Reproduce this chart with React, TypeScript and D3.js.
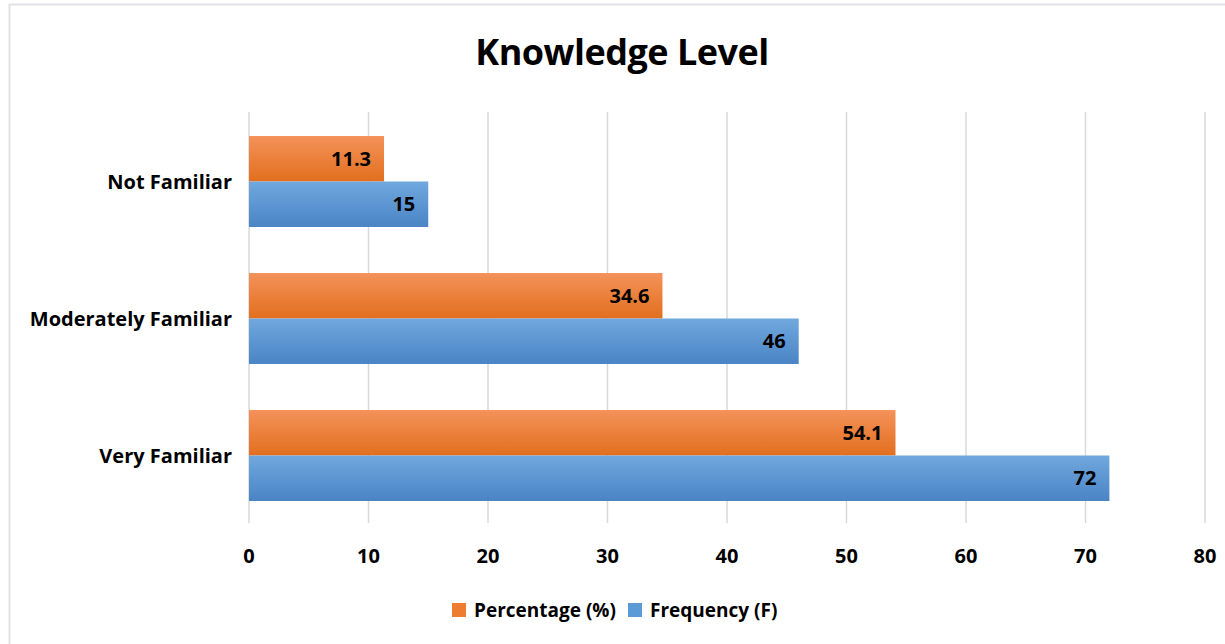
import React from "react";
import * as d3 from "d3";

const categories = ["Not Familiar", "Moderately Familiar", "Very Familiar"];
const seriesNames = ["Percentage (%)", "Frequency (F)"];
const percentage = [11.3, 34.6, 54.1];
const frequency = [15, 46, 72];
const xTicks = [0, 10, 20, 30, 40, 50, 60, 70, 80];

const W = 1225;
const H = 644;
const FONT = "'Open Sans', Lato, sans-serif";

export default function App() {
  const x = d3.scaleLinear().domain([0, 80]).range([249, 1205]);
  const y = d3.scaleBand<string>().domain(categories).range([113, 524]).paddingInner(0.336).paddingOuter(0.168);
  const sub = d3.scaleBand<string>().domain(seriesNames).range([0, y.bandwidth()]);
  const series = [
    { name: seriesNames[0], values: percentage, grad: "gOrange", color: "#ED7D31" },
    { name: seriesNames[1], values: frequency, grad: "gBlue", color: "#5B9BD5" },
  ];
  return (
    <div style={{ position: "absolute", left: 0, top: 0 }}>
      <svg width={W} height={H} style={{ display: "block" }} fontFamily={FONT}>
        <defs>
          <linearGradient id="gOrange" x1="0" y1="0" x2="0" y2="1">
            <stop offset="0" stopColor="#F4925A" />
            <stop offset="1" stopColor="#E26F1E" />
          </linearGradient>
          <linearGradient id="gBlue" x1="0" y1="0" x2="0" y2="1">
            <stop offset="0" stopColor="#70A8DE" />
            <stop offset="1" stopColor="#4A84C5" />
          </linearGradient>
        </defs>
        <rect x={0} y={0} width={W} height={H} fill="#fff" />
        <rect x={9.5} y={4.5} width={W} height={H} fill="none" stroke="#e1e1e6" strokeWidth={2} />
        <text x={622} y={65} textAnchor="middle" fontSize={36} fontWeight="bold" fill="#000" letterSpacing={-0.5}>
          Knowledge Level
        </text>
        {xTicks.map((t) => (
          <g key={t}>
            <line x1={x(t)} x2={x(t)} y1={112} y2={523} stroke="#d9d9d9" strokeWidth={1.5} />
            <text x={x(t)} y={563} textAnchor="middle" fontSize={20} fontWeight="bold" fill="#000">
              {t}
            </text>
          </g>
        ))}
        {categories.map((c) => (
          <text key={c} x={232} y={(y(c) ?? 0) + y.bandwidth() / 2 + 7} textAnchor="end" fontSize={20} fontWeight="bold" fill="#000">
            {c}
          </text>
        ))}
        {series.map((s) =>
          categories.map((c, i) => {
            const y0 = (y(c) ?? 0) + (sub(s.name) ?? 0);
            const h = sub.bandwidth();
            return (
              <g key={s.name + c}>
                <rect x={x(0)} y={y0} width={x(s.values[i]) - x(0)} height={h} fill={`url(#${s.grad})`} />
                <text x={x(s.values[i]) - 13} y={y0 + h / 2 + 7} textAnchor="end" fontSize={20} fontWeight="bold" fill="#000">
                  {s.values[i]}
                </text>
              </g>
            );
          })
        )}
        {series.map((s, i) => {
          const lx = i === 0 ? 452 : 628;
          return (
            <g key={s.name}>
              <rect x={lx} y={603} width={14} height={14} fill={s.color} />
              <text x={lx + 22} y={617} fontSize={19} fontWeight="bold" fill="#000">
                {s.name}
              </text>
            </g>
          );
        })}
      </svg>
    </div>
  );
}
